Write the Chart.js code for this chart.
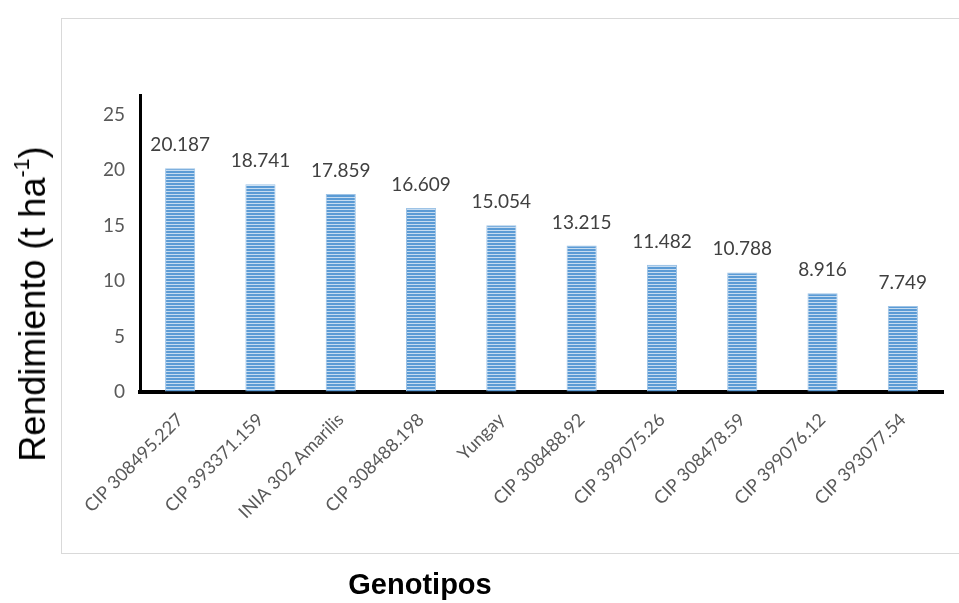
<!DOCTYPE html>
<html>
<head>
<meta charset="utf-8">
<script src="https://cdn.jsdelivr.net/npm/chart.js@4/dist/chart.umd.min.js"></script>
<style>
  html, body { margin: 0; padding: 0; background: #ffffff; }
  #wrap { position: relative; width: 959px; height: 603px; overflow: hidden; }
  #frame { position: absolute; left: 61px; top: 18px; width: 910px; height: 536px; border: 1px solid #d9d9d9; box-sizing: border-box; }
  #chart { position: absolute; left: 0; top: 0; }
  #ytitle { position: absolute; left: 33px; top: 304px; transform: translate(-50%, -50%) rotate(-90deg);
            font-family: "Liberation Sans", Arial, sans-serif; font-size: 36px; color: #000; white-space: nowrap; }
  #ytitle sup { font-size: 60%; vertical-align: 0; position: relative; top: -0.75em; }
  #xtitle { position: absolute; left: 420px; top: 570px; transform: translateX(-50%);
            font-family: "Liberation Sans", Arial, sans-serif; font-size: 29px; font-weight: bold; color: #000; white-space: nowrap; line-height: 1; }
</style>
</head>
<body>
<div id="wrap">
  <div id="frame"></div>
  <canvas id="chart" width="959" height="603"></canvas>
  <div id="ytitle">Rendimiento (t ha<sup>-1</sup>)</div>
  <div id="xtitle">Genotipos</div>
</div>
<script>
// Genotypes and their yield (t/ha)
const genotipos = [
  "CIP 308495.227", "CIP 393371.159", "INIA 302 Amarilis", "CIP 308488.198", "Yungay",
  "CIP 308488.92", "CIP 399075.26", "CIP 308478.59", "CIP 399076.12", "CIP 393077.54"
];
const rendimiento = [20.187, 18.741, 17.859, 16.609, 15.054, 13.215, 11.482, 10.788, 8.916, 7.749];
const yTicks = [0, 5, 10, 15, 20, 25];

// Horizontal-stripe fill for the bars
function stripePattern() {
  const c = document.createElement('canvas');
  c.width = 4; c.height = 3;
  const g = c.getContext('2d');
  g.fillStyle = '#5b9bd5'; g.fillRect(0, 0, 4, 3);
  g.fillStyle = '#c6dcf1'; g.fillRect(0, 2, 4, 1);
  return g.createPattern(c, 'repeat');
}

// Value labels above each bar
const valueLabels = {
  id: 'valueLabels',
  afterDatasetsDraw(chart) {
    const ctx = chart.ctx;
    const meta = chart.getDatasetMeta(0);
    ctx.save();
    ctx.font = '19px Lato, "Open Sans", sans-serif';
    ctx.fillStyle = '#404040';
    ctx.textAlign = 'center';
    ctx.textBaseline = 'alphabetic';
    meta.data.forEach((bar, i) => {
      ctx.fillText(rendimiento[i].toFixed(3), bar.x, bar.y - 17);
    });
    ctx.restore();
  }
};

new Chart(document.getElementById('chart'), {
  type: 'bar',
  data: {
    labels: genotipos,
    datasets: [{
      data: rendimiento,
      backgroundColor: stripePattern(),
      borderColor: '#9dc3e6',
      borderWidth: 1,
      categoryPercentage: 1,
      barPercentage: 0.375
    }]
  },
  options: {
    responsive: false,
    animation: false,
    layout: { padding: { left: 0, right: 16, top: 95, bottom: 0 } },
    plugins: { legend: { display: false }, tooltip: { enabled: false } },
    scales: {
      x: {
        grid: { display: false, drawTicks: false },
        border: { display: true, color: '#000000', width: 4 },
        ticks: {
          minRotation: 45, maxRotation: 45, autoSkip: false, padding: 17,
          color: '#595959', font: { family: 'Lato, "Open Sans", sans-serif', size: 18 }
        },
        afterFit(scale) { scale.height = 211; }
      },
      y: {
        min: 0, max: 26.8,
        grid: { display: true, drawOnChartArea: false, drawTicks: false },
        border: { display: true, color: '#000000', width: 3 },
        ticks: {
          stepSize: 5, padding: 15,
          color: '#595959', font: { family: 'Lato, "Open Sans", sans-serif', size: 19 }
        },
        afterBuildTicks(scale) { scale.ticks = yTicks.map(v => ({ value: v })); },
        afterFit(scale) { scale.width = 140; }
      }
    }
  },
  plugins: [valueLabels]
});
</script>
</body>
</html>
